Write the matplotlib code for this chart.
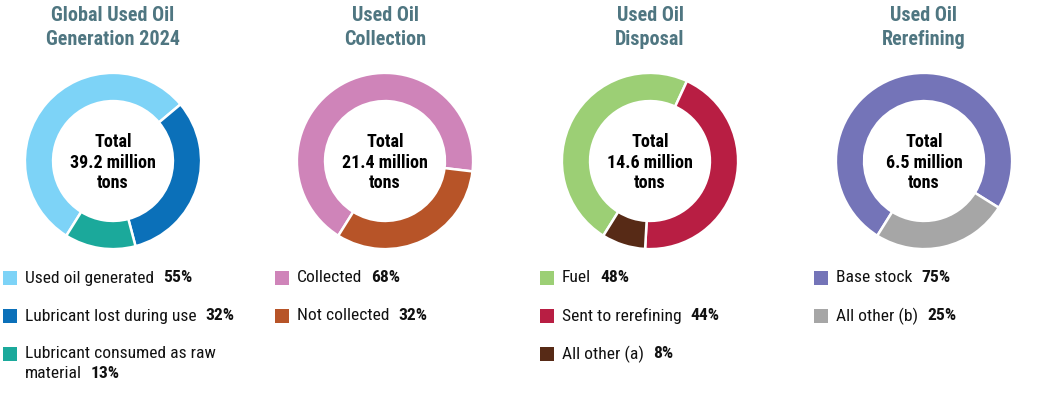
import matplotlib.pyplot as plt
from matplotlib.patches import Rectangle

W, H = 1047, 395

titles = ["Global Used Oil\nGeneration 2024", "Used Oil\nCollection", "Used Oil\nDisposal", "Used Oil\nRerefining"]
totals = ["39.2", "21.4", "14.6", "6.5"]

labels = [
    ["Used oil generated", "Lubricant lost during use", "Lubricant consumed as raw\nmaterial"],
    ["Collected", "Not collected"],
    ["Fuel", "Sent to rerefining", "All other (a)"],
    ["Base stock", "All other (b)"],
]
shares = [
    [55, 32, 13],
    [68, 32],
    [48, 44, 8],
    [75, 25],
]
colors = [
    ["#7dd3f7", "#0b70b9", "#1ba99b"],
    ["#cf84b9", "#b75428"],
    ["#9ccf75", "#b81e43", "#572a16"],
    ["#7474b8", "#a6a6a6"],
]

centers_x = [113, 385, 650, 924]
center_y = 161
r_out = 89

plt.rcParams["font.family"] = ["Roboto Condensed", "DejaVu Sans"]

fig = plt.figure(figsize=(W / 100, H / 100), dpi=100)


def fx(x):
    return x / W


def fy(y):
    return 1 - y / H


for i, cx in enumerate(centers_x):
    ax = fig.add_axes([fx(cx - r_out), fy(center_y + r_out), 2 * r_out / W, 2 * r_out / H])
    ax.pie(shares[i], colors=colors[i], startangle=238, counterclock=False, radius=1,
           wedgeprops=dict(width=0.32, edgecolor="white", linewidth=1.8))
    ax.set_xlim(-1.01, 1.01)
    ax.set_ylim(-1.01, 1.01)
    ax.set_aspect("equal")
    ax.axis("off")

    fig.text(fx(cx), fy(27.5), titles[i], ha="center", va="center", fontsize=14.5,
             fontweight="bold", color="#4f7681", linespacing=1.28)
    fig.text(fx(cx), fy(center_y + 1.5), f"Total\n{totals[i]} million\ntons", ha="center", va="center",
             fontsize=13, fontweight="bold", color="black", linespacing=1.17)

fig.canvas.draw()
renderer = fig.canvas.get_renderer()

row_y = [278, 316, 354]
for i, cx in enumerate(centers_x):
    x0 = cx - 110
    for j, lab in enumerate(labels[i]):
        y = row_y[j]
        fig.patches.append(Rectangle((fx(x0), fy(y + 7)), 14 / W, 14 / H,
                                     transform=fig.transFigure, facecolor=colors[i][j], edgecolor="none"))
        lines = lab.split("\n")
        t = None
        for k, line in enumerate(lines):
            t = fig.text(fx(x0 + 22), fy(y + 20 * k), line, ha="left", va="center",
                         fontsize=12.6, color="#111111")
        bb = t.get_window_extent(renderer)
        fig.text(fx(bb.x1 + 9), fy(y + 20 * (len(lines) - 1)), f"{shares[i][j]}%", ha="left",
                 va="center", fontsize=12.6, fontweight="bold", color="#111111")

fig.savefig("out.png", dpi=100, facecolor="white")
